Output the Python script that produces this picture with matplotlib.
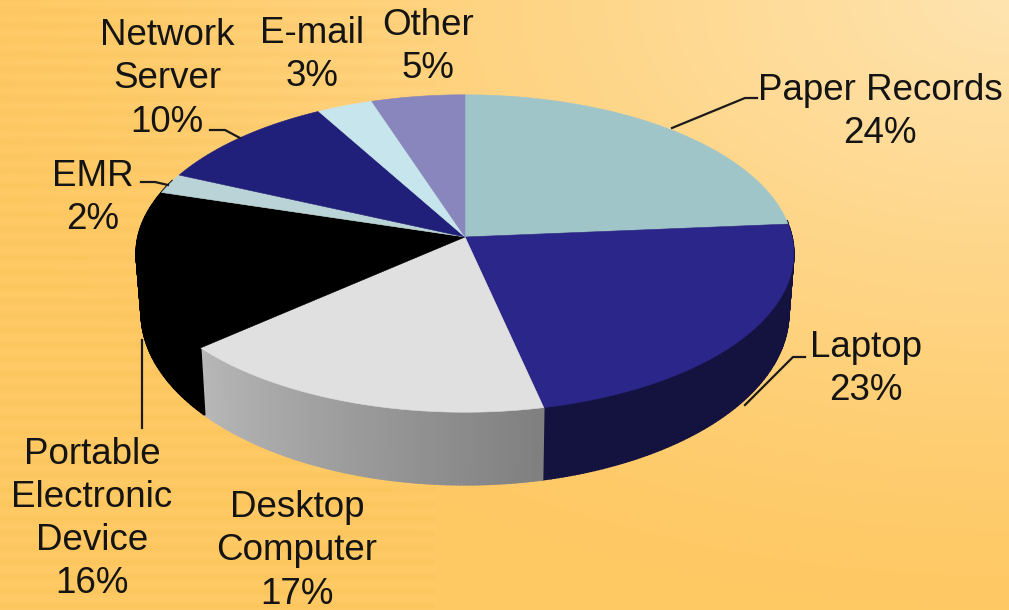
import numpy as np
import matplotlib
matplotlib.use("Agg")
import matplotlib.pyplot as plt
from matplotlib.patches import Polygon

labels = ["Paper Records\n24%", "Laptop\n23%", "Desktop\nComputer\n17%",
          "Portable\nElectronic\nDevice\n16%", "EMR\n2%", "Network\nServer\n10%",
          "E-mail\n3%", "Other\n5%"]
values = [24, 23, 17, 16, 2, 10, 3, 5]
top_colors = ["#9fc5c9", "#2b2689", "#e0e0e0", "#000000",
              "#b9d3d6", "#20207a", "#c6e5ec", "#8886bd"]
side_colors = ["#14123f", "#14123f", None, "#000000",
               "#000000", "#14123f", "#8fa8ad", "#5f5e88"]

W, H = 1009, 610
plt.rcParams["font.family"] = ["Liberation Sans", "DejaVu Sans"]


def project(theta, cx, cy, rx, ry, p=0.104):
    # clockwise from 12 o'clock, with a bit of perspective toward the viewer
    u = np.sin(theta)
    v = -np.cos(theta)
    d = 1 - p * v
    return cx + rx * u / d, cy + ry * v / d


def top_edge(theta):
    return project(theta, 465, 237, 327, 157)


def bottom_edge(theta):
    return project(theta, 465, 295, 322, 170)


fig = plt.figure(figsize=(W / 100, H / 100), dpi=100)
ax = fig.add_axes([0, 0, 1, 1])
ax.set_xlim(0, W)
ax.set_ylim(H, 0)
ax.axis("off")

# background: warm orange, lighter toward the top right corner
yy, xx = np.mgrid[0:H, 0:W]
dist = np.hypot((xx - W) / W, yy / H)
t = np.clip(1 - dist / 1.05, 0, 1) ** 1.3
base = np.array([254, 200, 98]) / 255
light = np.array([255, 228, 176]) / 255
bg = base + t[..., None] * (light - base)
# faint rows of background lettering on the left
rows = 0.005 * np.sin(yy * 2 * np.pi / 14.5) * (xx < 435)
bg = np.clip(bg + rows[..., None] * np.array([1, 1.6, 2.6]), 0, 1)
ax.imshow(bg, extent=(0, W, H, 0), aspect="auto", zorder=0)

edges = np.deg2rad(np.cumsum([0] + values) * 3.6)
# small view shear of the slice boundaries, zero at 12 o'clock
edges = edges - np.deg2rad(1.7) * np.sin(edges / 2)

# outer wall, only the part facing the viewer
wall_from, wall_to = np.deg2rad(84), np.deg2rad(292)
for i in range(len(values)):
    a, b = max(edges[i], wall_from), min(edges[i + 1], wall_to)
    if a >= b:
        continue
    th = np.linspace(b, a, 121)
    tx, ty = top_edge(th)
    bx, by = bottom_edge(th)
    for k in range(len(th) - 1):
        if side_colors[i] is None:
            # shaded wall: thin strips going from light gray to mid gray
            f = k / (len(th) - 2)
            g = 0.72 + (0.50 - 0.72) * f
            col = (g, g, g)
        else:
            col = side_colors[i]
        pts = [(tx[k], ty[k]), (tx[k + 1], ty[k + 1]), (bx[k + 1], by[k + 1]), (bx[k], by[k])]
        ax.add_patch(Polygon(pts, closed=True, fc=col, ec=col, lw=1.2, zorder=2))

# top faces
for i in range(len(values)):
    th = np.linspace(edges[i], edges[i + 1], 100)
    x, y = top_edge(th)
    pts = np.r_[[[465, 237]], np.c_[x, y]]
    ax.add_patch(Polygon(pts, closed=True, fc=top_colors[i], ec=top_colors[i], lw=0.4, zorder=3))

# leader lines
leaders = [
    ([672, 745, 757], [128, 98, 98]),
    ([745, 793, 805], [405, 357, 357]),
    ([142, 142], [340, 428]),
    ([141, 155, 168], [182, 182, 185]),
    ([210, 225, 240], [130, 130, 138]),
]
for lx, ly in leaders:
    ax.plot(lx, ly, color="#1a1a1a", lw=1.6, zorder=4, solid_joinstyle="round")

# label centres are set per slice
positions = [(880, 112), (866, 369), (297, 551), (92, 519), (93, 198), (167, 79), (312, 55), (428, 47)]
for text, (px, py) in zip(labels, positions):
    ax.text(px, py, text, ha="center", va="center", fontsize=26.5, color="#141414",
            linespacing=1.3, zorder=5)

fig.savefig("out.png", dpi=100)
